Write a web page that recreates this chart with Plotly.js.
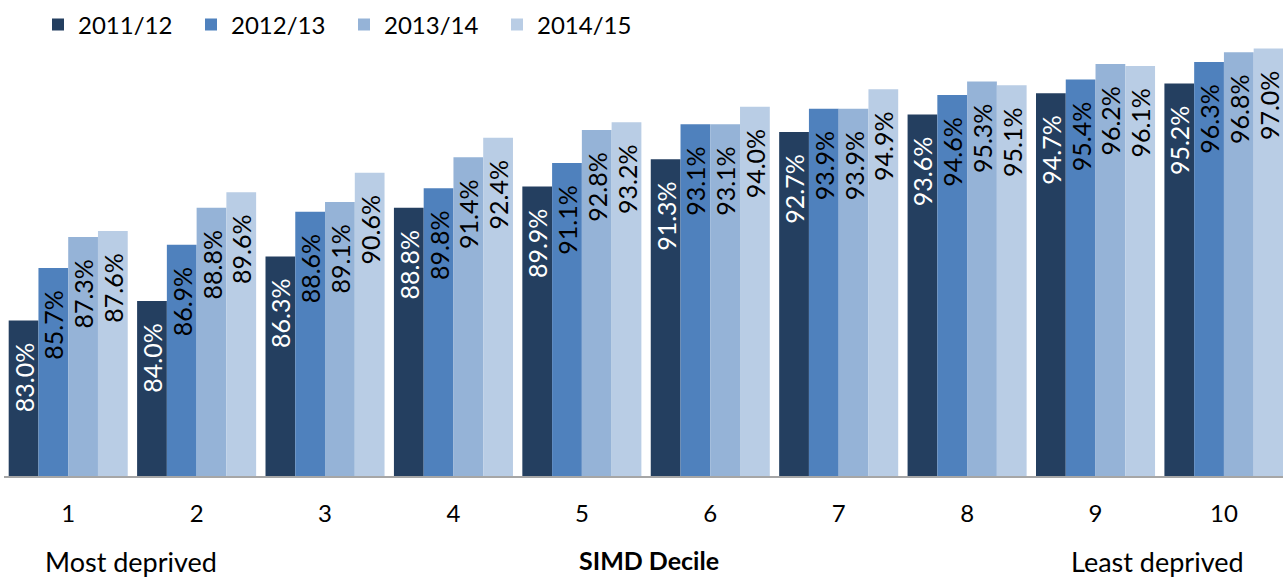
<!DOCTYPE html>
<html>
<head>
<meta charset="utf-8">
<script src="https://cdn.plot.ly/plotly-3.0.1.min.js"></script>
<style>
html,body{margin:0;padding:0;background:#fff;}
#chart{width:1283px;height:579px;}
</style>
</head>
<body>
<div id="chart"></div>
<script>
const deciles = ['1','2','3','4','5','6','7','8','9','10'];
const seriesNames = ['2011/12','2012/13','2013/14','2014/15'];
const v2011 = [83.0, 84.0, 86.3, 88.8, 89.9, 91.3, 92.7, 93.6, 94.7, 95.2];
const v2012 = [85.7, 86.9, 88.6, 89.8, 91.1, 93.1, 93.9, 94.6, 95.4, 96.3];
const v2013 = [87.3, 88.8, 89.1, 91.4, 92.8, 93.1, 93.9, 95.3, 96.2, 96.8];
const v2014 = [87.6, 89.6, 90.6, 92.4, 93.2, 94.0, 94.9, 95.1, 96.1, 97.0];
const seriesValues = [v2011, v2012, v2013, v2014];
const colors = ['#243F60', '#4F81BD', '#95B3D7', '#B9CDE5'];
const labelColors = ['#FFFFFF', '#000000', '#000000', '#000000'];

const FONT = 'Lato, "Open Sans", sans-serif';

const traces = seriesValues.map((vals, i) => ({
  type: 'bar',
  name: seriesNames[i],
  x: deciles,
  y: vals,
  marker: {color: colors[i], line: {width: 0}},
  texttemplate: '%{y:.1f}%\u00a0\u00a0\u00a0',
  textposition: 'inside',
  insidetextanchor: 'end',
  textangle: -90,
  constraintext: 'none',
  insidetextfont: {family: FONT, size: 25, color: labelColors[i]},
  hoverinfo: 'skip'
}));

const W = 1283, H = 579;
const L = 4, R = 0, T = 29, B = 103;
const PW = W - L - R, PH = H - T - B;
const px = x => (x - L) / PW;
const py = y => (H - B - y) / PH;

const layout = {
  width: W, height: H,
  margin: {l: L, r: R, t: T, b: B, pad: 0},
  paper_bgcolor: '#ffffff',
  plot_bgcolor: '#ffffff',
  barmode: 'group',
  bargap: 0.073,
  bargroupgap: 0,
  font: {family: FONT, color: '#000000'},
  showlegend: true,
  legend: {
    orientation: 'h',
    x: px(38), xanchor: 'left',
    y: py(25), yanchor: 'middle',
    font: {family: FONT, size: 24, color: '#000000'},
    entrywidth: 108,
    entrywidthmode: 'pixels',
    bgcolor: 'rgba(0,0,0,0)',
    traceorder: 'normal'
  },
  xaxis: {
    type: 'category',
    range: [-0.5, 9.46],
    showline: true,
    linecolor: '#A6A6A6',
    linewidth: 2,
    ticks: '',
    showgrid: false,
    zeroline: false,
    tickfont: {family: FONT, size: 24, color: '#000000'},
    ticklabelstandoff: 15,
    fixedrange: true
  },
  yaxis: {
    range: [75, 98],
    visible: false,
    showgrid: false,
    zeroline: false,
    fixedrange: true
  },
  annotations: [
    {text: 'Most deprived', xref: 'paper', yref: 'paper', x: px(131), y: py(561),
     xanchor: 'center', yanchor: 'middle', showarrow: false,
     font: {family: FONT, size: 27, color: '#000000'}},
    {text: '<b>SIMD Decile</b>', xref: 'paper', yref: 'paper', x: px(649), y: py(560),
     xanchor: 'center', yanchor: 'middle', showarrow: false,
     font: {family: FONT, size: 25, color: '#000000'}},
    {text: 'Least deprived', xref: 'paper', yref: 'paper', x: px(1157), y: py(561),
     xanchor: 'center', yanchor: 'middle', showarrow: false,
     font: {family: FONT, size: 27, color: '#000000'}}
  ]
};

Plotly.newPlot('chart', traces, layout, {staticPlot: true, displayModeBar: false});
</script>
</body>
</html>
